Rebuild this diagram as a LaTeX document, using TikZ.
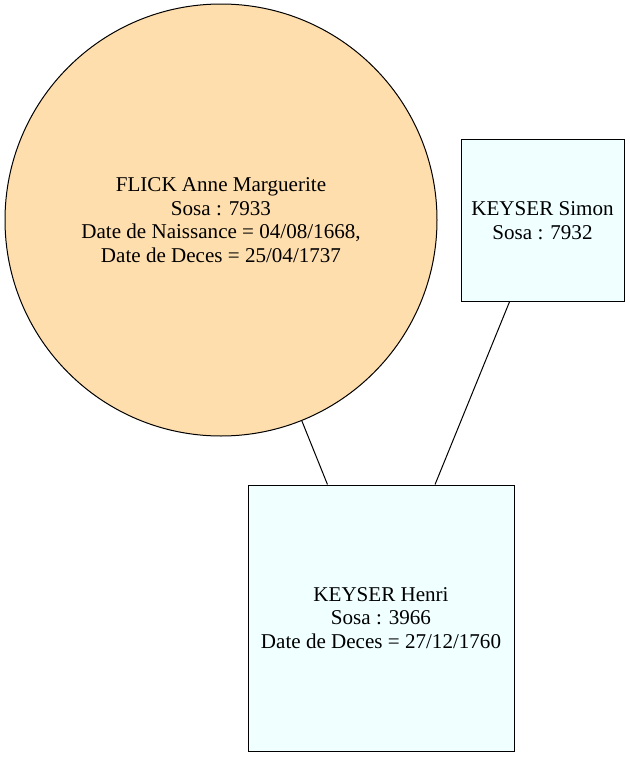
\documentclass[tikz,border=0pt]{standalone}
\usepackage{fontspec}
\setmainfont{Liberation Serif}
\definecolor{navajo}{RGB}{255,222,173}
\definecolor{azurefill}{RGB}{240,255,255}
\tikzset{
  person/.style={draw, line width=0.75pt, align=center, font=\fontsize{15.8}{17.6}\selectfont, inner sep=0pt},
  kwoman/.style={person, circle, fill=navajo, minimum size=324pt},
  kman/.style={person, rectangle, fill=azurefill},
  link/.style={line width=0.75pt},
}

\begin{document}
\begin{tikzpicture}[x=0.75pt, y=-0.75pt]
    \useasboundingbox (0,0) rectangle (629,757);
    \node[kwoman] (flick) at (221,220) {FLICK Anne Marguerite\\Sosa : 7933\\Date de Naissance = 04/08/1668,\\Date de Deces = 25/04/1737};
    \node[kman, minimum width=122.25pt, minimum height=121.5pt] (simon) at (542.5,220.5) {KEYSER Simon\\Sosa : 7932};
    \node[kman, minimum width=199.5pt, minimum height=199.5pt] (henri) at (381,618) {KEYSER Henri\\Sosa : 3966\\Date de Deces = 27/12/1760};
    \draw[link] (flick) -- (henri);
    \draw[link] (simon) -- (henri);
  \end{tikzpicture}
\end{document}
